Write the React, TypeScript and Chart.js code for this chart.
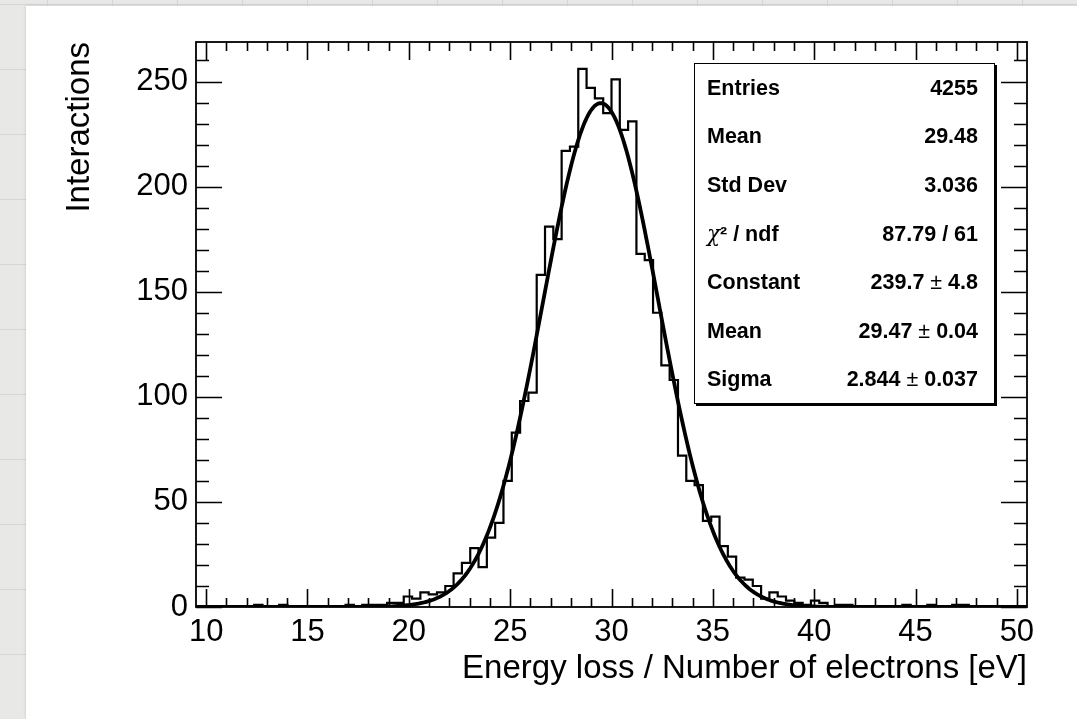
import React, { useEffect, useRef } from "react";
import { Chart, registerables } from "chart.js";

Chart.register(...registerables);

// ---- Data ----
const X_MIN = 9.5;
const X_MAX = 50.5;
const BIN_WIDTH = 0.41;
const COUNTS = [
  0, 0, 0, 0, 0, 0, 0, 1, 0, 0,
  1, 0, 0, 0, 0, 0, 0, 0, 1, 0,
  1, 1, 1, 2, 2, 5, 4, 7, 6, 7,
  10, 16, 21, 28, 19, 33, 40, 60, 83, 98,
  102, 158, 181, 175, 217, 219, 256, 247, 242, 235,
  251, 227, 231, 168, 165, 140, 115, 108, 72, 60,
  58, 41, 43, 29, 24, 14, 13, 10, 4, 7,
  5, 3, 2, 1, 3, 2, 0, 1, 1, 0,
  0, 0, 0, 0, 0, 1, 0, 0, 1, 0,
  0, 1, 1, 0, 0, 0, 0, 0, 0, 0,
];
const Y_MAX = 268.8;
const X_TICKS = [10, 15, 20, 25, 30, 35, 40, 45, 50];
const Y_TICKS = [0, 50, 100, 150, 200, 250];
const X_MINOR_STEP = 1;
const Y_MINOR_STEP = 10;

// Gaussian fit parameters (from the stats box)
const FIT_CONSTANT = 239.7;
const FIT_MEAN = 29.47;
const FIT_SIGMA = 2.844;

const STATS_LABELS = ["Entries", "Mean", "Std Dev", "χ² / ndf", "Constant", "Mean", "Sigma"];
const STATS_VALUES = ["4255", "29.48", "3.036", "87.79 / 61", "239.7 ± 4.8", "29.47 ± 0.04", "2.844 ± 0.037"];

const X_TITLE = "Energy loss / Number of electrons [eV]";
const Y_TITLE = "Interactions";

const FONT = "'Liberation Sans', Arial, Helvetica, sans-serif";

const frameTicks = {
  id: "frameTicks",
  afterDraw(chart: any) {
    const { ctx, chartArea, scales } = chart;
    const { left, right, top, bottom } = chartArea;
    const x = scales.x;
    const y = scales.y;
    ctx.save();
    ctx.strokeStyle = "#000";
    ctx.lineWidth = 1.6;
    ctx.beginPath();
    for (let v = Math.ceil(X_MIN); v <= X_MAX + 1e-9; v += X_MINOR_STEP) {
      const px = Math.round(x.getPixelForValue(v)) + 0.5;
      const major = X_TICKS.includes(v);
      const len = major ? 18 : 9;
      ctx.moveTo(px, bottom);
      ctx.lineTo(px, bottom - len);
      ctx.moveTo(px, top);
      ctx.lineTo(px, top + len);
    }
    for (let v = 0; v <= Y_MAX + 1e-9; v += Y_MINOR_STEP) {
      const py = Math.round(y.getPixelForValue(v)) + 0.5;
      const major = Y_TICKS.includes(v);
      const len = major ? 26 : 13;
      ctx.moveTo(left, py);
      ctx.lineTo(left + len, py);
      ctx.moveTo(right, py);
      ctx.lineTo(right - len, py);
    }
    ctx.stroke();
    ctx.lineWidth = 1.8;
    ctx.strokeRect(left, top, right - left, bottom - top);
    ctx.restore();
  },
};

export default function App() {
  const canvasRef = useRef<HTMLCanvasElement | null>(null);

  useEffect(() => {
    const canvas = canvasRef.current;
    if (!canvas) return;

    const histPoints: { x: number; y: number }[] = [];
    COUNTS.forEach((c, i) => {
      const lo = X_MIN + i * BIN_WIDTH;
      const hi = X_MIN + (i + 1) * BIN_WIDTH;
      histPoints.push({ x: lo, y: c });
      histPoints.push({ x: hi, y: c });
    });

    const fitPoints: { x: number; y: number }[] = [];
    const nFit = 500;
    for (let i = 0; i <= nFit; i++) {
      const xv = X_MIN + ((X_MAX - X_MIN) * i) / nFit;
      const z = (xv - FIT_MEAN) / FIT_SIGMA;
      fitPoints.push({ x: xv, y: FIT_CONSTANT * Math.exp(-0.5 * z * z) });
    }

    const chart = new Chart(canvas, {
      type: "line",
      data: {
        datasets: [
          {
            data: histPoints,
            borderColor: "#000",
            borderWidth: 2.2,
            pointRadius: 0,
            tension: 0,
            fill: false,
          },
          {
            data: fitPoints,
            borderColor: "#000",
            borderWidth: 3.8,
            pointRadius: 0,
            tension: 0,
            fill: false,
          },
        ],
      },
      options: {
        responsive: false,
        animation: false,
        devicePixelRatio: 1,
        parsing: false,
        layout: { padding: { top: 42, right: 50, left: 0, bottom: 0 } },
        plugins: {
          legend: { display: false },
          tooltip: { enabled: false },
          title: { display: false },
        },
        scales: {
          x: {
            type: "linear",
            min: X_MIN,
            max: X_MAX,
            grid: { display: false, drawTicks: false },
            border: { display: false },
            afterBuildTicks: (s: any) => {
              s.ticks = X_TICKS.map((v) => ({ value: v }));
            },
            afterFit: (s: any) => {
              s.height = 112;
            },
            ticks: {
              color: "#000",
              padding: 7,
              maxRotation: 0,
              autoSkip: false,
              font: { family: FONT, size: 31 },
              callback: (v: any) => String(v),
            },
            title: {
              display: true,
              text: X_TITLE,
              align: "end",
              color: "#000",
              font: { family: FONT, size: 33 },
              padding: { top: 0, bottom: 30 },
            },
          },
          y: {
            type: "linear",
            min: 0,
            max: Y_MAX,
            grid: { display: false, drawTicks: false },
            border: { display: false },
            afterBuildTicks: (s: any) => {
              s.ticks = Y_TICKS.map((v) => ({ value: v }));
            },
            afterFit: (s: any) => {
              s.width = 196;
            },
            ticks: {
              color: "#000",
              padding: 8,
              autoSkip: false,
              font: { family: FONT, size: 31 },
              callback: (v: any) => String(v),
            },
            title: {
              display: true,
              text: Y_TITLE,
              align: "end",
              color: "#000",
              font: { family: FONT, size: 33 },
              padding: { top: 60, bottom: 0 },
            },
          },
        },
      },
      plugins: [frameTicks],
    });

    return () => chart.destroy();
  }, []);

  return (
    <div
      style={{
        position: "fixed",
        left: 0,
        top: 0,
        width: 1077,
        height: 719,
        overflow: "hidden",
        backgroundColor: "#e8e8e6",
        backgroundImage:
          "repeating-linear-gradient(90deg, transparent 0px, transparent 47px, #d6d6d4 47px, #d6d6d4 48px, transparent 48px, transparent 65px), repeating-linear-gradient(0deg, transparent 0px, transparent 64px, #d6d6d4 64px, #d6d6d4 65px)",
      }}
    >
      <div
        style={{
          position: "absolute",
          left: 26,
          top: 6,
          right: 0,
          bottom: 0,
          background: "#fff",
          boxShadow: "0 0 3px rgba(0,0,0,0.15)",
        }}
      />
      <canvas
        ref={canvasRef}
        width={1077}
        height={719}
        style={{ position: "absolute", left: 0, top: 0, width: 1077, height: 719 }}
      />
      <div
        style={{
          position: "absolute",
          left: 694,
          top: 63,
          width: 301,
          height: 341,
          boxSizing: "border-box",
          border: "1.5px solid #000",
          boxShadow: "2px 2px 0 #000",
          background: "#fff",
          fontFamily: FONT,
          fontWeight: "bold",
          fontSize: 21.5,
          color: "#000",
        }}
      >
        {STATS_LABELS.map((label, i) => (
          <div
            key={i}
            style={{
              height: 48.6,
              display: "flex",
              alignItems: "center",
              justifyContent: "space-between",
              paddingLeft: 12,
              paddingRight: 16,
            }}
          >
            <span>
              {label.startsWith("χ") ? (
                <>
                  <span style={{ fontWeight: "normal", fontStyle: "italic", fontFamily: "'DejaVu Serif', serif" }}>χ</span>
                  {label.slice(1)}
                </>
              ) : (
                label
              )}
            </span>
            <span>
              {STATS_VALUES[i].split("±").map((part, j, arr) => (
                <React.Fragment key={j}>
                  {part}
                  {j < arr.length - 1 ? <span style={{ fontWeight: "normal" }}>±</span> : null}
                </React.Fragment>
              ))}
            </span>
          </div>
        ))}
      </div>
    </div>
  );
}
